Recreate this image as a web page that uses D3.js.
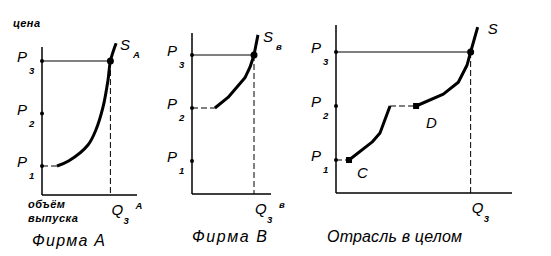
<!DOCTYPE html>
<html>
<head>
<meta charset="utf-8">
<script src="https://cdnjs.cloudflare.com/ajax/libs/d3/7.8.5/d3.min.js"></script>
<style>
  body { margin: 0; background: #fff; }
  svg { display: block; }
  text { font-family: "Liberation Sans", Arial, sans-serif; font-style: italic; fill: #000; }
  .sub { font-size: 9.5px; font-weight: bold; }
  .big { font-size: 15px; }
  .title { font-size: 16px; }
  .note { font-size: 11px; font-weight: bold; letter-spacing: 0.5px; }
</style>
</head>
<body>
<div id="chart"></div>
<script>
// price levels P1..P3
var priceLevels = [1, 2, 3];
var priceSubs = ["1", "2", "3"];

// firm A supply (quantity, price)
var supplyA = [[1.58, 1], [2.84, 1.1], [4.84, 1.4], [5.68, 1.69], [6.42, 2.12], [6.95, 2.64], [7.2, 3], [7.8, 3.34]];
var startA = [[0, 1], [1.58, 1]];
var q3A = 7.2;

// firm B supply
var supplyB = [[2.9, 2], [4.56, 2.2], [6.7, 2.57], [7.34, 2.77], [7.85, 3], [8.35, 3.38]];
var startB = [[0, 2], [2.9, 2]];
var q3B = 7.85;

// industry supply: part C, gap, part D
var industryC = [[1.48, 1], [4.09, 1.33], [5.0, 1.5], [6.14, 2]];
var industryD = [[9.1, 2], [12.2, 2.22], [13.9, 2.44], [14.9, 2.76], [15.3, 3], [16.1, 3.46]];
var startC = [[0, 1], [1.48, 1]];
var gapCD = [[6.14, 2], [9.1, 2]];
var q3S = 15.3;

var width = 551, height = 256;

var svg = d3.select("#chart").append("svg")
  .attr("width", width)
  .attr("height", height);

function drawPanel(p) {
  var x = d3.scaleLinear().domain([0, p.qMax]).range([p.left, p.right]);
  var y = d3.scaleLinear().domain([1, 3]).range([p.yP1, p.yP3]);
  var g = svg.append("g");

  var line = d3.line()
    .x(function(d) { return x(d[0]); })
    .y(function(d) { return y(d[1]); })
    .curve(p.curve);
  var flat = d3.line()
    .x(function(d) { return x(d[0]); })
    .y(function(d) { return y(d[1]); });

  // axes
  g.append("line")
    .attr("x1", p.left).attr("x2", p.left)
    .attr("y1", p.top).attr("y2", p.bottom)
    .attr("stroke", "#000").attr("stroke-width", 1.5);
  g.append("line")
    .attr("x1", p.left).attr("x2", p.right)
    .attr("y1", p.bottom).attr("y2", p.bottom)
    .attr("stroke", "#000").attr("stroke-width", 1.5);

  // P3 level and Q3
  g.append("line")
    .attr("x1", x(0)).attr("x2", x(p.q3))
    .attr("y1", y(3)).attr("y2", y(3))
    .attr("stroke", "#000").attr("stroke-width", 1);
  g.append("line")
    .attr("x1", x(p.q3)).attr("x2", x(p.q3))
    .attr("y1", y(3)).attr("y2", p.bottom)
    .attr("stroke", "#000").attr("stroke-width", 1)
    .attr("stroke-dasharray", "6,3");

  // dashed flats
  p.dashed.forEach(function(seg) {
    g.append("path")
      .attr("d", flat(seg))
      .attr("fill", "none")
      .attr("stroke", "#000").attr("stroke-width", 1)
      .attr("stroke-dasharray", "6,3");
  });

  // supply curves
  p.curves.forEach(function(c) {
    g.append("path")
      .attr("d", line(c))
      .attr("fill", "none")
      .attr("stroke", "#000")
      .attr("stroke-width", 3)
      .attr("stroke-linejoin", "round");
  });

  // ticks on price axis
  g.selectAll(".pdot").data(priceLevels).enter().append("circle")
    .attr("cx", p.left).attr("cy", function(d) { return y(d); })
    .attr("r", 2).attr("fill", "#000");

  // price labels
  priceLevels.forEach(function(d, i) {
    g.append("text").attr("class", "big")
      .attr("x", p.left - 25).attr("y", y(d) + 1).text("P");
    g.append("text").attr("class", "sub")
      .attr("x", p.left - 13).attr("y", y(d) + 13).text(priceSubs[i]);
  });

  // equilibrium dot
  g.append("circle")
    .attr("cx", x(p.q3)).attr("cy", y(3))
    .attr("r", 3.5).attr("fill", "#000");

  // squares at segment starts
  (p.squares || []).forEach(function(s) {
    g.append("rect")
      .attr("x", x(s[0]) - 3).attr("y", y(s[1]) - 3)
      .attr("width", 6).attr("height", 6).attr("fill", "#000");
  });

  // S label
  var last = p.curves[p.curves.length - 1];
  var lp = last[last.length - 1];
  g.append("text").attr("class", "big")
    .attr("x", x(lp[0]) + p.sDx).attr("y", y(lp[1]) + 7).text("S");
  if (p.sSub) {
    g.append("text").attr("class", "sub")
      .attr("x", x(lp[0]) + p.sDx + 13).attr("y", y(lp[1]) + 15).text(p.sSub);
  }

  // Q label
  g.append("text").attr("class", "big")
    .attr("x", x(p.q3) + 1).attr("y", p.bottom + 20).text("Q");
  g.append("text").attr("class", "sub")
    .attr("x", x(p.q3) + 13).attr("y", p.bottom + 29).text("3");
  if (p.qSup) {
    g.append("text").attr("class", "sub")
      .attr("x", x(p.q3) + 25).attr("y", p.bottom + 14).text(p.qSup);
  }

  // title
  g.append("text").attr("class", "title")
    .attr("x", p.titleX).attr("y", p.titleY)
    .attr("textLength", p.titleW).attr("lengthAdjust", "spacing")
    .text(p.title);

  return { x: x, y: y, g: g };
}

var a = drawPanel({
  left: 42, right: 137, top: 47, bottom: 195, qMax: 10, yP1: 166, yP3: 61,
  curve: d3.curveCatmullRom, curves: [supplyA], dashed: [startA], q3: q3A,
  sDx: 4, sSub: "A", qSup: "A", title: "Фирма А", titleX: 32, titleY: 246, titleW: 73
});

var b = drawPanel({
  left: 192, right: 271, top: 33, bottom: 194, qMax: 10, yP1: 161, yP3: 55,
  curve: d3.curveLinear, curves: [supplyB], dashed: [startB], q3: q3B,
  sDx: 5, sSub: "в", qSup: "в", title: "Фирма В", titleX: 192, titleY: 242, titleW: 75
});

var c = drawPanel({
  left: 336, right: 512, top: 25, bottom: 193, qMax: 20, yP1: 160, yP3: 52,
  curve: d3.curveLinear, curves: [industryC, industryD], dashed: [startC, gapCD], q3: q3S,
  squares: [industryC[0], industryD[0]],
  sDx: 10, title: "Отрасль в целом", titleX: 327, titleY: 242, titleW: 135
});

// extra notes in panel A
a.g.append("text").attr("class", "note").attr("x", 13).attr("y", 27).text("цена");
a.g.append("text").attr("class", "note").attr("x", 28).attr("y", 208).text("объём");
a.g.append("text").attr("class", "note").attr("x", 28).attr("y", 222).text("выпуска");

// C and D labels
c.g.append("text").attr("class", "big")
  .attr("x", c.x(industryC[0][0]) + 8).attr("y", c.y(industryC[0][1]) + 18).text("C");
c.g.append("text").attr("class", "big")
  .attr("x", c.x(industryD[0][0]) + 10).attr("y", c.y(industryD[0][1]) + 22).text("D");
</script>
</body>
</html>
